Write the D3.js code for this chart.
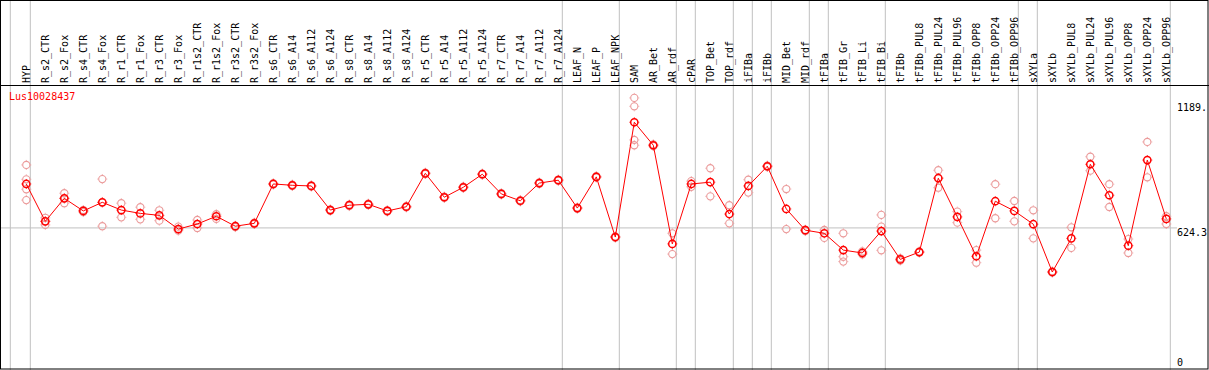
<!DOCTYPE html>
<html>
<head>
<meta charset="utf-8">
<script src="https://cdn.jsdelivr.net/npm/d3@7"></script>
<style>
  body { margin: 0; background: #fff; }
  svg { display: block; }
  text { font-family: "DejaVu Sans Mono", monospace; font-size: 10px; }
</style>
</head>
<body>
<div id="chart"></div>
<script>
// sample names along the x axis
const categories = ["HYP", "R_s2_CTR", "R_s2_Fox", "R_s4_CTR", "R_s4_Fox", "R_r1_CTR", "R_r1_Fox",
  "R_r3_CTR", "R_r3_Fox", "R_r1s2_CTR", "R_r1s2_Fox", "R_r3s2_CTR", "R_r3s2_Fox",
  "R_s6_CTR", "R_s6_A14", "R_s6_A112", "R_s6_A124", "R_s8_CTR", "R_s8_A14", "R_s8_A112", "R_s8_A124",
  "R_r5_CTR", "R_r5_A14", "R_r5_A112", "R_r5_A124", "R_r7_CTR", "R_r7_A14", "R_r7_A112", "R_r7_A124",
  "LEAF_N", "LEAF_P", "LEAF_NPK", "SAM", "AR_Bet", "AR_rdf", "cPAR", "TOP_Bet", "TOP_rdf",
  "iFIBa", "iFIBb", "MID_Bet", "MID_rdf", "tFIBa", "tFIB_Gr", "tFIB_Li", "tFIB_Bi", "tFIBb",
  "tFIBb_PUL8", "tFIBb_PUL24", "tFIBb_PUL96", "tFIBb_OPP8", "tFIBb_OPP24", "tFIBb_OPP96",
  "sXYLa", "sXYLb", "sXYLb_PUL8", "sXYLb_PUL24", "sXYLb_PUL96", "sXYLb_OPP8", "sXYLb_OPP24", "sXYLb_OPP96"];

// mean expression per sample (red line)
const means = [823, 654, 758, 701, 740, 705, 690, 681, 619, 642, 677, 632, 645,
  823, 817, 814, 705, 727, 731, 701, 720,
  871, 763, 808, 867, 778, 747, 827, 840,
  714, 855, 583, 1102, 998, 552, 823, 831, 687,
  814, 903, 710, 614, 600, 524, 511, 610, 482,
  515, 849, 674, 496, 745, 701,
  641, 425, 577, 912, 772, 544, 931, 665];

// individual replicates (pale circles)
const replicates = [
  [909, 844, 799, 750], [670, 654, 638], [781, 758, 736], [705, 696], [845, 740, 632],
  [736, 672], [718, 663], [704, 657], [630, 612], [660, 624], [686, 665], [634, 628], [648, 642],
  [826, 820], [820, 814], [817, 811], [708, 702], [730, 723], [734, 728], [704, 698], [723, 717],
  [874, 868], [766, 760], [811, 805], [870, 864], [781, 775], [750, 744], [830, 824], [843, 837],
  [717, 711], [858, 852], [586, 580], [1212, 1174, 1022, 998], [1002, 994], [600, 506],
  [836, 810], [894, 767], [727, 645], [842, 784], [906, 900], [800, 619], [616, 610],
  [615, 579], [600, 494, 472], [518, 505], [683, 630, 523], [487, 477],
  [518, 513], [885, 850, 806], [698, 648], [524, 467], [822, 668], [746, 654],
  [704, 577], [428, 422], [627, 534], [946, 883], [822, 719], [574, 511], [1013, 853], [677, 642]];

// samples after which a separator is drawn
const groupEnds = ["HYP", "R_r7_A124", "LEAF_NPK", "AR_rdf", "cPAR", "TOP_rdf", "iFIBa", "iFIBb",
  "MID_rdf", "tFIBa", "tFIB_Bi", "tFIBb_OPP96", "sXYLa", "sXYLb_OPP96"];

const yTicks = [1189, 624.3, 0];
const yTickLabels = ["1189.", "624.3", "0"];
const geneName = "Lus10028437";

const width = 1209, height = 370;
const headerY = 85;

const svg = d3.select("#chart").append("svg")
  .attr("width", width)
  .attr("height", height);

const x = d3.scalePoint().domain(categories).range([26.3, 1166.3]);
const y = d3.scaleLinear().domain([0, 1189]).range([366, 103]);

// vertical separators
const sepX = [x(categories[0]) - 16].concat(groupEnds.map(c => x(c) + 4));
svg.append("g").selectAll("line")
  .data(sepX)
  .join("line")
  .attr("x1", d => d).attr("x2", d => d)
  .attr("y1", 0).attr("y2", height)
  .attr("stroke", "#c0c0c0");

// mid reference line
svg.append("line")
  .attr("x1", 0).attr("x2", 1177)
  .attr("y1", y(624.3)).attr("y2", y(624.3))
  .attr("stroke", "#c0c0c0");

// frame
svg.append("rect")
  .attr("x", 0.5).attr("y", 0.5)
  .attr("width", width - 1.5).attr("height", height - 1.5)
  .attr("fill", "none").attr("stroke", "#000");
svg.append("line")
  .attr("x1", 0).attr("x2", width)
  .attr("y1", headerY + 0.5).attr("y2", headerY + 0.5)
  .attr("stroke", "#000");

// rotated sample labels
svg.append("g").selectAll("text")
  .data(categories)
  .join("text")
  .attr("transform", d => `translate(${x(d) + 3.5},83) rotate(-90)`)
  .attr("fill", "#000")
  .text(d => d);

// right value labels
svg.append("g").selectAll("text")
  .data(yTicks)
  .join("text")
  .attr("x", 1177)
  .attr("y", d => Math.min(y(d) + 8, 366))
  .attr("fill", "#000")
  .text((d, i) => yTickLabels[i]);

svg.append("text")
  .attr("x", 9).attr("y", 100)
  .attr("fill", "#ff0000")
  .text(geneName);

// marker: circle with tiny ticks
function marker(g, color, sw) {
  g.append("circle").attr("r", 3.6).attr("fill", "none")
    .attr("stroke", color).attr("stroke-width", sw);
  [[0, -4, 0, -5], [0, 4, 0, 5], [-4, 0, -5, 0], [4, 0, 5, 0]].forEach(t => {
    g.append("line").attr("x1", t[0]).attr("y1", t[1]).attr("x2", t[2]).attr("y2", t[3])
      .attr("stroke", color).attr("stroke-width", 0.8);
  });
}

const repPts = [];
replicates.forEach((r, i) => r.forEach(v => repPts.push({ c: categories[i], v })));

svg.append("g").selectAll("g")
  .data(repPts)
  .join("g")
  .attr("transform", d => `translate(${x(d.c)},${y(d.v)})`)
  .each(function () { marker(d3.select(this), "#eb9a9a", 1.1); });

const line = d3.line()
  .x((d, i) => x(categories[i]))
  .y(d => y(d));

svg.append("path")
  .datum(means)
  .attr("d", line)
  .attr("fill", "none")
  .attr("stroke", "#ff0000")
  .attr("stroke-width", 1);

svg.append("g").selectAll("g")
  .data(means)
  .join("g")
  .attr("transform", (d, i) => `translate(${x(categories[i])},${y(d)})`)
  .each(function () { marker(d3.select(this), "#ff0000", 1.5); });
</script>
</body>
</html>
